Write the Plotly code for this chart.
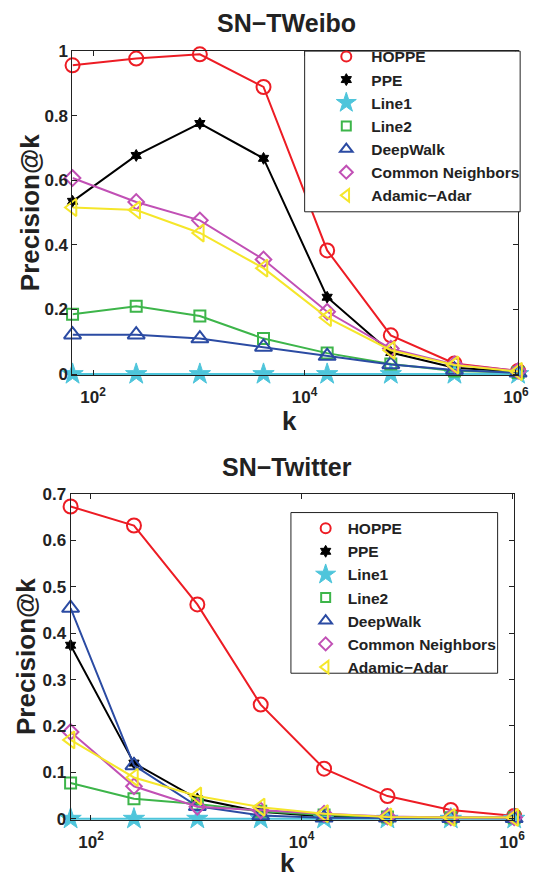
import plotly.graph_objects as go

k_values = [64, 256, 1024, 4096, 16384, 65536, 262144, 1048576]
series_names = ["HOPPE", "PPE", "Line1", "Line2", "DeepWalk", "Common Neighbors", "Adamic\u2212Adar"]

weibo_hoppe = [0.956, 0.977, 0.990, 0.889, 0.383, 0.120, 0.033, 0.010]
weibo_ppe = [0.535, 0.677, 0.776, 0.668, 0.238, 0.067, 0.020, 0.007]
weibo_line1 = [0.0, 0.0, 0.0, 0.0, 0.0, 0.0, 0.0, 0.0]
weibo_line2 = [0.185, 0.210, 0.180, 0.110, 0.065, 0.031, 0.010, 0.005]
weibo_deepwalk = [0.122, 0.122, 0.110, 0.084, 0.056, 0.030, 0.013, 0.004]
weibo_cn = [0.607, 0.533, 0.476, 0.355, 0.193, 0.079, 0.030, 0.010]
weibo_aa = [0.516, 0.508, 0.437, 0.328, 0.175, 0.074, 0.028, 0.008]

twitter_hoppe = [0.673, 0.632, 0.462, 0.246, 0.108, 0.049, 0.019, 0.006]
twitter_ppe = [0.374, 0.120, 0.043, 0.015, 0.005, 0.003, 0.002, 0.002]
twitter_line1 = [0.0, 0.0, 0.0, 0.0, 0.0, 0.0, 0.0, 0.0]
twitter_line2 = [0.077, 0.043, 0.032, 0.016, 0.008, 0.004, 0.002, 0.002]
twitter_deepwalk = [0.454, 0.115, 0.027, 0.007, 0.002, 0.002, 0.001, 0.001]
twitter_cn = [0.187, 0.070, 0.026, 0.018, 0.011, 0.005, 0.003, 0.003]
twitter_aa = [0.170, 0.089, 0.049, 0.025, 0.011, 0.004, 0.003, 0.003]

x_tick_vals = [1e2, 1e4, 1e6]
x_tick_text = ["10<sup>2</sup>", "10<sup>4</sup>", "10<sup>6</sup>"]
weibo_y_ticks = [0, 0.2, 0.4, 0.6, 0.8, 1.0]
weibo_y_text = ["0", "0.2", "0.4", "0.6", "0.8", "1"]
twitter_y_ticks = [0, 0.1, 0.2, 0.3, 0.4, 0.5, 0.6, 0.7]
twitter_y_text = ["0", "0.1", "0.2", "0.3", "0.4", "0.5", "0.6", "0.7"]

colors = ["#ED1C24", "#000000", "#4EC5DB", "#3DB54A", "#2B4BA3", "#C150B5", "#F5E62A"]
symbols = ["circle-open", "hexagram", "star", "square-open", "triangle-up-open",
           "diamond-open", "triangle-left-open"]
sizes = [14, 9, 16, 11, 15, 12, 15]
legend_sizes = [10, 9, 15, 9, 11, 10, 11]

FONT = "Liberation Sans, Arial, Helvetica, sans-serif"

fig = go.Figure()


def add_panel(data, xa, ya, legend_name):
    for i, (name, vals) in enumerate(zip(series_names, data)):
        c = colors[i]
        is_open = symbols[i].endswith("open")
        marker = dict(symbol=symbols[i], size=sizes[i], color=c,
                      line=dict(color=c, width=2 if is_open else 1))
        fig.add_trace(go.Scatter(
            x=k_values, y=vals, mode="lines+markers", name=name,
            line=dict(color=c, width=2), marker=marker,
            xaxis=xa, yaxis=ya, showlegend=False, cliponaxis=False))
        lm = dict(marker)
        lm["size"] = legend_sizes[i]
        fig.add_trace(go.Scatter(
            x=[None], y=[None], mode="markers", name=name, marker=lm,
            xaxis=xa, yaxis=ya, showlegend=True, legend=legend_name,
            legendgroup=legend_name + name))


add_panel([weibo_hoppe, weibo_ppe, weibo_line1, weibo_line2, weibo_deepwalk, weibo_cn, weibo_aa],
          "x", "y", "legend")
add_panel([twitter_hoppe, twitter_ppe, twitter_line1, twitter_line2, twitter_deepwalk, twitter_cn, twitter_aa],
          "x2", "y2", "legend2")

W, H = 538, 886
xr = [1.8055, 6.0213]

axis_common = dict(showline=True, linecolor="#222222", linewidth=1, mirror="ticks",
                   ticks="inside", ticklen=5, tickcolor="#222222", showgrid=False,
                   zeroline=False,
                   tickfont=dict(family=FONT, size=17, color="#222222", weight="bold"))

legend_common = dict(bgcolor="rgba(0,0,0,0)", borderwidth=0,
                     font=dict(family=FONT, size=15.5, color="#222222", weight="bold"),
                     xanchor="left", yanchor="top", traceorder="grouped",
                     tracegroupgap=0, itemsizing="trace")

fig.update_layout(
    width=W, height=H, autosize=False,
    margin=dict(l=0, r=0, t=0, b=0),
    paper_bgcolor="white", plot_bgcolor="white",
    xaxis=dict(type="log", range=xr, domain=[74 / W, 529 / W], anchor="y",
               tickvals=x_tick_vals, ticktext=x_tick_text, ticklabelstandoff=6, **axis_common),
    yaxis=dict(range=[-0.004, 1], domain=[(H - 374) / H, (H - 43) / H], anchor="x",
               tickvals=weibo_y_ticks, ticktext=weibo_y_text, **axis_common),
    xaxis2=dict(type="log", range=xr, domain=[72 / W, 525 / W], anchor="y2",
                tickvals=x_tick_vals, ticktext=x_tick_text, ticklabelstandoff=6, **axis_common),
    yaxis2=dict(range=[-0.003, 0.7], domain=[(H - 828) / H, (H - 495) / H], anchor="x2",
                tickvals=twitter_y_ticks, ticktext=twitter_y_text, **axis_common),
    legend=dict(x=328 / W, y=(H - 31.5) / H, itemwidth=40, **legend_common),
    legend2=dict(x=310 / W, y=(H - 513) / H, itemwidth=34, **legend_common),
)

# legend frames (white boxes drawn above the data lines, beneath the legend entries)
for (x0, y0, x1, y1) in [(311, 43, 531, 207), (297, 514, 508, 678)]:
    fig.add_shape(type="rect", xref="paper", yref="paper",
                  x0=x0 / W, x1=x1 / W, y0=(H - y1) / H, y1=(H - y0) / H,
                  line=dict(color="#222222", width=1), fillcolor="white", layer="above")

title_font = dict(family=FONT, size=25, color="#222222", weight="bold")
label_font = dict(family=FONT, size=26, color="#222222", weight="bold")
annotations = [
    dict(text="SN\u2212TWeibo", x=292 / W, y=(H - 14) / H, font=title_font),
    dict(text="SN\u2212Twitter", x=293 / W, y=(H - 467) / H, font=title_font),
    dict(text="Precision@k", x=30 / W, y=(H - 208) / H, font=label_font, textangle=-90),
    dict(text="Precision@k", x=26 / W, y=(H - 661) / H, font=label_font, textangle=-90),
    dict(text="k", x=296 / W, y=(H - 421) / H, font=label_font),
    dict(text="k", x=293 / W, y=(H - 872) / H, font=label_font),
]
for a in annotations:
    fig.add_annotation(xref="paper", yref="paper", showarrow=False,
                       xanchor="center", yanchor="middle", **a)

fig.write_html("out.html")
